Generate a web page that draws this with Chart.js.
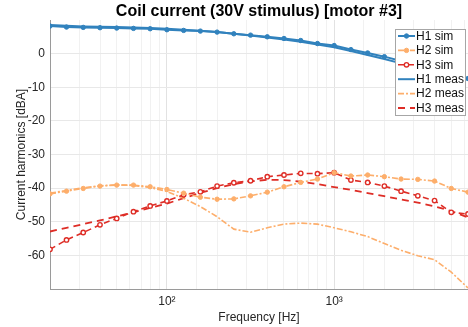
<!DOCTYPE html>
<html>
<head>
<meta charset="utf-8">
<script src="https://cdn.jsdelivr.net/npm/chart.js@4"></script>
<style>
  html, body { margin: 0; padding: 0; background: #fff; }
  #wrap { width: 468px; height: 327px; }
</style>
</head>
<body>
<div id="wrap"><canvas id="coilChart" width="468" height="327"></canvas></div>
<script>
// Frequency points [Hz]
const freqs = [20, 25.1, 31.6, 39.8, 50.1, 63.1, 79.4, 100, 125.9, 158.5, 199.5, 251.2, 316.2,
  398.1, 501.2, 631, 794.3, 1000, 1258.9, 1584.9, 1995.3, 2511.9, 3162.3, 3981.1, 5011.9, 6309.6];

// Harmonics [dBA]
const h1Sim = [8.2, 7.9, 7.8, 7.7, 7.6, 7.5, 7.4, 7.1, 6.9, 6.7, 6.4, 5.9, 5.5,
  5.0, 4.5, 3.9, 3.0, 2.4, 1.2, 0.2, -0.9, -2.2, -3.5, -4.9, -6.2, -7.4];
const h2Sim = [-41.7, -40.9, -40.1, -39.4, -39.1, -39.1, -39.6, -40.4, -41.5, -42.7, -43.3, -43.2, -42.3,
  -41.2, -39.6, -38.3, -37.3, -35.4, -36.4, -36.1, -36.6, -37.3, -37.4, -37.9, -40.1, -41.2];
const h3Sim = [-58.2, -55.4, -53.2, -50.9, -49.0, -47.0, -45.3, -43.8, -42.0, -41.1, -39.4, -38.4, -37.8,
  -36.6, -36.1, -35.6, -35.7, -35.4, -37.6, -38.3, -39.4, -40.9, -42.3, -43.7, -47.2, -47.7];
const h1Meas = [8.5, 8.3, 8.1, 8.0, 7.9, 7.8, 7.6, 7.4, 7.1, 6.8, 6.4, 5.9, 5.4,
  4.8, 4.2, 3.5, 2.7, 1.9, 0.8, -0.4, -1.6, -2.9, -4.2, -5.4, -6.5, -7.6];
const h2Meas = [-41.5, -40.7, -39.9, -39.3, -39.0, -39.2, -39.8, -41.0, -43.0, -45.5, -48.5, -52.2, -53.1,
  -51.8, -50.7, -50.4, -50.7, -51.8, -53.0, -54.4, -56.5, -58.5, -60.1, -61.3, -65.0, -69.7];
const h3Meas = [-52.9, -51.8, -50.7, -49.6, -48.4, -47.2, -45.9, -44.6, -43.0, -41.4, -40.0, -38.8, -38.0,
  -37.5, -37.6, -38.1, -38.8, -39.7, -40.5, -41.5, -42.4, -43.4, -44.3, -45.4, -46.8, -48.7];

const seriesNames = ['H1 sim', 'H2 sim', 'H3 sim', 'H1 meas', 'H2 meas', 'H3 meas'];
const yTicks = [-70, -60, -50, -40, -30, -20, -10, 0, 10];

const BLUE = '#3182bd';
const ORANGE = '#fdae6b';
const RED = '#de2d26';
const FONT = '"Liberation Sans", Arial, sans-serif';

function toPoints(values) {
  return freqs.map((f, i) => ({ x: f, y: values[i] }));
}

// Title + boxed legend drawn like the MATLAB figure
const figurePlugin = {
  id: 'figureExtras',
  afterDraw(chart) {
    const ctx = chart.ctx;
    const area = chart.chartArea;
    ctx.save();

    // title
    ctx.fillStyle = '#000';
    ctx.font = 'bold 16px ' + FONT;
    ctx.textAlign = 'center';
    ctx.textBaseline = 'middle';
    ctx.fillText('Coil current (30V stimulus) [motor #3]', (area.left + area.right) / 2, 12);

    // legend box
    const x0 = 395, y0 = 29, w = 71, h = 87;
    ctx.fillStyle = '#fff';
    ctx.fillRect(x0, y0, w, h);
    ctx.strokeStyle = '#a6a6a6';
    ctx.lineWidth = 1;
    ctx.setLineDash([]);
    ctx.strokeRect(x0 + 0.5, y0 + 0.5, w - 1, h - 1);

    ctx.font = '12px ' + FONT;
    ctx.textAlign = 'left';
    chart.data.datasets.forEach((ds, i) => {
      const y = y0 + 7 + i * 14.4;
      ctx.strokeStyle = ds.borderColor;
      ctx.lineWidth = ds.borderWidth;
      ctx.setLineDash(ds.borderDash || []);
      ctx.beginPath();
      ctx.moveTo(x0 + 3, y);
      ctx.lineTo(x0 + 20, y);
      ctx.stroke();
      if (ds.pointRadius > 0) {
        ctx.setLineDash([]);
        ctx.beginPath();
        ctx.arc(x0 + 11.5, y, ds.pointRadius, 0, Math.PI * 2);
        ctx.fillStyle = ds.pointBackgroundColor;
        ctx.fill();
        ctx.lineWidth = ds.pointBorderWidth;
        ctx.strokeStyle = ds.pointBorderColor;
        ctx.stroke();
      }
      ctx.fillStyle = '#111';
      ctx.fillText(ds.label, x0 + 21, y + 0.5);
    });
    ctx.restore();
  }
};

const ctx = document.getElementById('coilChart').getContext('2d');
new Chart(ctx, {
  type: 'line',
  data: {
    datasets: [
      {
        label: seriesNames[0], data: toPoints(h1Sim),
        borderColor: BLUE, borderWidth: 2, borderDash: [],
        pointRadius: 2.2, pointBackgroundColor: BLUE, pointBorderColor: BLUE, pointBorderWidth: 1
      },
      {
        label: seriesNames[1], data: toPoints(h2Sim),
        borderColor: ORANGE, borderWidth: 1.6, borderDash: [6, 2, 2, 2],
        pointRadius: 2.2, pointBackgroundColor: ORANGE, pointBorderColor: ORANGE, pointBorderWidth: 1
      },
      {
        label: seriesNames[2], data: toPoints(h3Sim),
        borderColor: RED, borderWidth: 1.6, borderDash: [6, 4],
        pointRadius: 2.2, pointBackgroundColor: '#fff', pointBorderColor: RED, pointBorderWidth: 1.4
      },
      {
        label: seriesNames[3], data: toPoints(h1Meas),
        borderColor: BLUE, borderWidth: 2, borderDash: [],
        pointRadius: 0, pointBackgroundColor: BLUE, pointBorderColor: BLUE, pointBorderWidth: 0
      },
      {
        label: seriesNames[4], data: toPoints(h2Meas),
        borderColor: ORANGE, borderWidth: 1.6, borderDash: [6, 2, 2, 2],
        pointRadius: 0, pointBackgroundColor: ORANGE, pointBorderColor: ORANGE, pointBorderWidth: 0
      },
      {
        label: seriesNames[5], data: toPoints(h3Meas),
        borderColor: RED, borderWidth: 1.8, borderDash: [7, 5],
        pointRadius: 0, pointBackgroundColor: RED, pointBorderColor: RED, pointBorderWidth: 0
      }
    ]
  },
  options: {
    responsive: false,
    animation: false,
    layout: { autoPadding: false, padding: { top: 20, right: 0, left: 0, bottom: 0 } },
    elements: { line: { tension: 0, fill: false } },
    plugins: {
      legend: { display: false },
      title: { display: false },
      tooltip: { enabled: false }
    },
    scales: {
      x: {
        type: 'logarithmic',
        min: 20,
        max: 6309.6,
        afterFit: (scale) => {
          scale.height = 38;
          scale.paddingLeft = 0;
          scale.paddingRight = 0;
        },
        border: { color: '#9a9a9a', width: 1 },
        grid: {
          drawTicks: false,
          color: (c) => {
            const v = c.tick ? c.tick.value : 0;
            return (v === 100 || v === 1000) ? '#e2e2e2' : '#f1f1f1';
          }
        },
        ticks: {
          autoSkip: false,
          maxRotation: 0,
          padding: 5,
          color: '#262626',
          font: { family: FONT, size: 12 },
          callback: (v) => v === 100 ? '10\u00B2' : (v === 1000 ? '10\u00B3' : '')
        },
        title: {
          display: true,
          text: 'Frequency [Hz]',
          color: '#262626',
          padding: { top: 0, bottom: 2 },
          font: { family: FONT, size: 12 }
        }
      },
      y: {
        min: -70,
        max: 10,
        afterFit: (scale) => { scale.width = 50; },
        afterBuildTicks: (scale) => { scale.ticks = yTicks.map(v => ({ value: v })); },
        border: { color: '#9a9a9a', width: 1 },
        grid: {
          drawTicks: false,
          color: (c) => (c.tick && c.tick.value === 10) ? 'rgba(0,0,0,0)' : '#e8e8e8'
        },
        ticks: {
          padding: 5,
          color: '#262626',
          font: { family: FONT, size: 12 },
          callback: (v) => (v === -70 || v === 10) ? '' : String(v)
        },
        title: {
          display: true,
          text: 'Current harmonics [dBA]',
          color: '#262626',
          padding: { top: 14, bottom: 0 },
          font: { family: FONT, size: 12 }
        }
      }
    }
  },
  plugins: [figurePlugin]
});
</script>
</body>
</html>
